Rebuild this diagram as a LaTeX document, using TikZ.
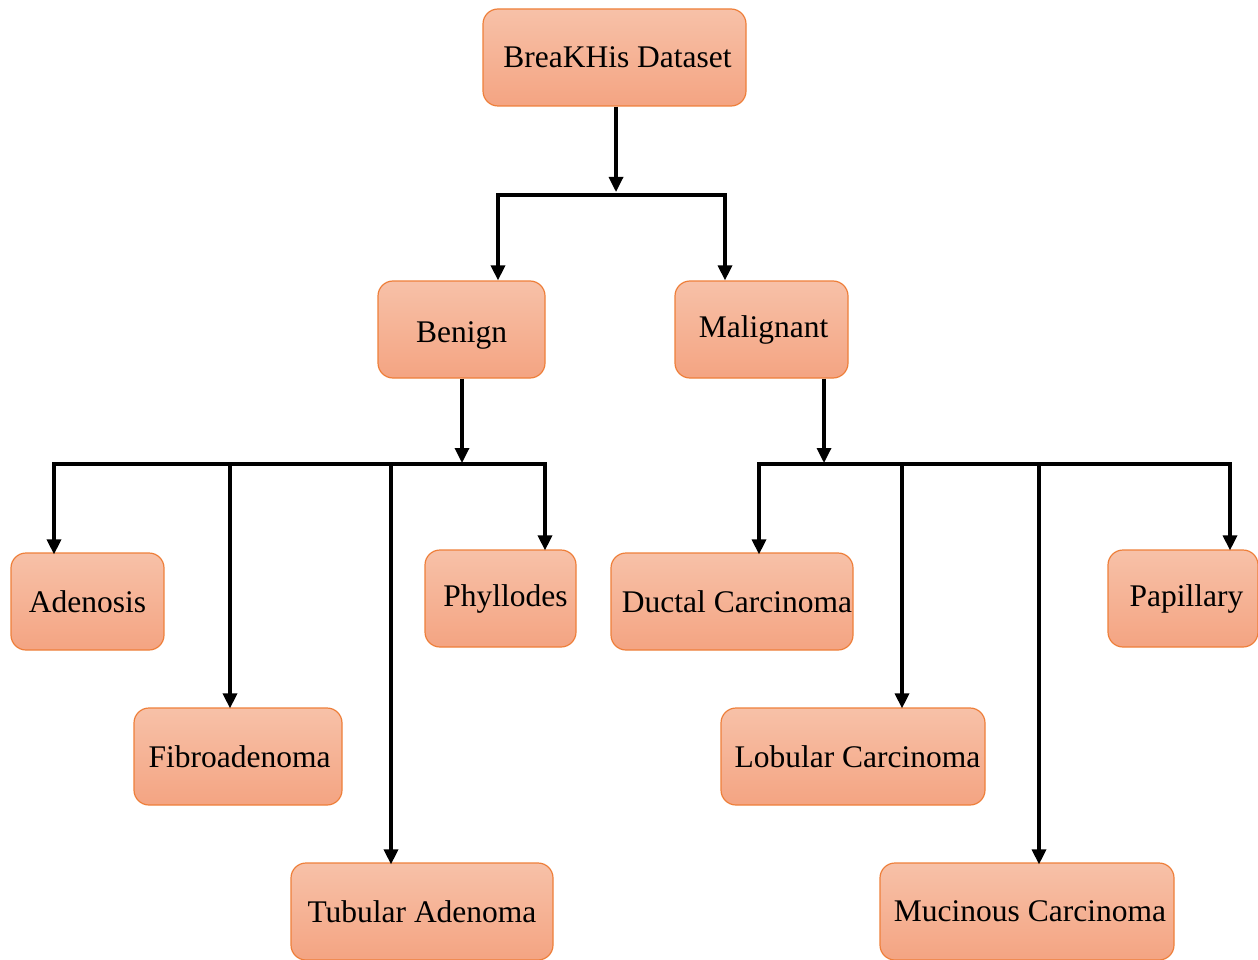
\documentclass[tikz,border=0pt]{standalone}
\usepackage{fontspec}
\setmainfont{Liberation Serif}
\usetikzlibrary{arrows.meta}
\definecolor{boxtop}{HTML}{F7C1A8}
\definecolor{boxbot}{HTML}{F4A482}
\definecolor{boxline}{HTML}{EE7F3A}
\tikzset{
  cat/.style={draw=boxline, line width=1.2pt, rounded corners=15pt,
    top color=boxtop, bottom color=boxbot, minimum height=97pt, inner sep=0pt,
    font=\fontsize{31.5}{36}\selectfont, text=black},
  ln/.style={line width=3.3pt, black, line cap=rect},
  arr/.style={line width=3.3pt, black, -{Triangle[length=15pt,width=14pt]}}
}
\begin{document}
\begin{tikzpicture}[x=1pt,y=-1pt]
\useasboundingbox (0,0) rectangle (1258,960);
% nodes
\node[cat, minimum width=263pt] (top) at (614.5,57.5) {\hspace*{6pt}BreaKHis Dataset};
\node[cat, minimum width=167pt] (benign) at (461.5,329.5) {\raisebox{-6pt}[\height][\depth]{Benign}};
\node[cat, minimum width=173pt] (malig) at (761.5,329.5) {\hspace*{4pt}Malignant};
\node[cat, minimum width=153pt] (aden) at (87.5,601.5) {Adenosis};
\node[cat, minimum width=208pt] (fibro) at (238,756.5) {\hspace*{3pt}Fibroadenoma};
\node[cat, minimum width=262pt] (tub) at (422,911.5) {Tubular Adenoma};
\node[cat, minimum width=151pt] (phyl) at (500.5,598.5) {\hspace*{10pt}Phyllodes};
\node[cat, minimum width=242pt] (duct) at (732,601.5) {\hspace*{10pt}Ductal Carcinoma};
\node[cat, minimum width=264pt] (lob) at (853,756.5) {\hspace*{9pt}Lobular Carcinoma};
\node[cat, minimum width=294pt] (muc) at (1027,911.5) {\hspace*{6pt}Mucinous Carcinoma};
\node[cat, minimum width=150pt] (pap) at (1183,598.5) {\hspace*{7pt}Papillary};
% junction coordinates
\coordinate (tj) at (616,195);
\coordinate (tl) at (498,195);
\coordinate (tr) at (725,195);
\coordinate (bj) at (462,464);
\coordinate (bl) at (54,464);
\coordinate (bf) at (230,464);
\coordinate (bt) at (391,464);
\coordinate (br) at (545,464);
\coordinate (mj) at (824,464);
\coordinate (ml) at (759,464);
\coordinate (mo) at (902,464);
\coordinate (mu) at (1039,464);
\coordinate (mr) at (1230,464);
% top split
\draw[arr, shorten >=3pt] (top.south -| tj) -- (tj);
\draw[ln] (tl) -- (tr);
\draw[arr] (tl) -- (benign.north -| tl);
\draw[arr] (tr) -- (malig.north -| tr);
% benign split
\draw[arr, shorten >=1pt] (benign.south -| bj) -- (bj);
\draw[ln] (bl) -- (br);
\draw[arr] (bl) -- ([yshift=-2pt]aden.north -| bl);
\draw[arr] (bf) -- ([yshift=-1pt]fibro.north -| bf);
\draw[arr] (bt) -- ([yshift=-2pt]tub.north -| bt);
\draw[arr] (br) -- ([yshift=-1pt]phyl.north -| br);
% malignant split
\draw[arr, shorten >=1pt] (malig.south -| mj) -- (mj);
\draw[ln] (ml) -- (mr);
\draw[arr] (ml) -- ([yshift=-2pt]duct.north -| ml);
\draw[arr] (mo) -- ([yshift=-1pt]lob.north -| mo);
\draw[arr] (mu) -- ([yshift=-2pt]muc.north -| mu);
\draw[arr] (mr) -- ([yshift=-1pt]pap.north -| mr);
\end{tikzpicture}
\end{document}
